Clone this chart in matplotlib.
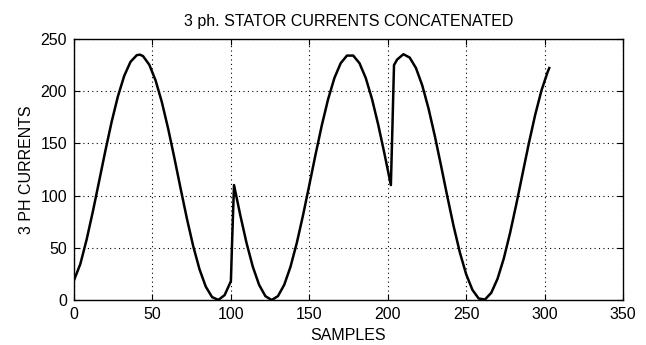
import matplotlib.pyplot as plt

plt.rcParams['font.family'] = ['Liberation Sans', 'DejaVu Sans']

# fase A (samples 0..100)
xa = [0, 4, 8, 12, 16, 20, 24, 28, 32, 36, 40, 42, 44, 48, 52, 56, 60, 64,
      68, 72, 76, 80, 84, 88, 92, 96, 100]
ya = [19, 34.4, 57.7, 84.7, 113.8, 143.1, 170.8, 195.2, 214.7, 228.1, 234.5,
      235, 233.6, 225.3, 210.3, 189.5, 164.2, 135.9, 106.4, 77.7, 51.5, 29.4,
      12.8, 2.8, 0.1, 4.7, 18]

# fase B (samples 101..202)
xb = [101, 102, 106, 110, 114, 118, 122, 126, 130, 134, 138, 142, 146, 150,
      154, 158, 162, 166, 170, 174, 178, 182, 186, 190, 194, 198, 202]
yb = [66, 110.1, 81.2, 54.5, 31.8, 14.5, 3.7, 0, 3.7, 14.5, 31.8, 54.5, 81.2,
      110.1, 139.5, 167.5, 192.4, 212.6, 226.8, 234.1, 234.1, 226.8, 212.6,
      192.4, 167.5, 139.5, 110.1]

# fase C (samples 203..303)
xc = [203, 204, 206, 210, 214, 218, 222, 226, 230, 234, 238, 242, 246, 250,
      254, 258, 262, 266, 270, 274, 278, 282, 286, 290, 294, 298, 302, 303]
yc = [166, 225, 230.3, 235.4, 232.2, 222.2, 205.6, 183.5, 157.3, 128.6, 99.1,
      70.8, 45.5, 24.7, 9.7, 1.4, 0.5, 6.9, 20.3, 39.8, 64.2, 91.9, 121.2,
      150.3, 177.3, 200.6, 218.6, 222.2]

x = xa + xb + xc
y = ya + yb + yc

fig = plt.figure(figsize=(6.46, 3.45), dpi=100)
ax = fig.add_axes([0.1146, 0.1304, 0.8498, 0.7566])

ax.plot(x, y, color='black', linewidth=1.8)

ax.set_xlim(0, 350)
ax.set_ylim(0, 250)
ax.set_xticks(range(0, 351, 50))
ax.set_yticks(range(0, 251, 50))

ax.grid(True, color='black', linestyle=(0, (1, 3)), linewidth=0.8)
ax.tick_params(direction='in', top=True, right=True, length=4, pad=5,
               labelsize=11.5, colors='black')
for s in ax.spines.values():
    s.set_linewidth(1.0)

ax.set_title('3 ph. STATOR CURRENTS CONCATENATED', fontsize=11.5, pad=9)
ax.set_xlabel('SAMPLES', fontsize=11.5, labelpad=4)
ax.set_ylabel('3 PH CURRENTS', fontsize=11.5, labelpad=5)

fig.savefig('out.png', dpi=100)
